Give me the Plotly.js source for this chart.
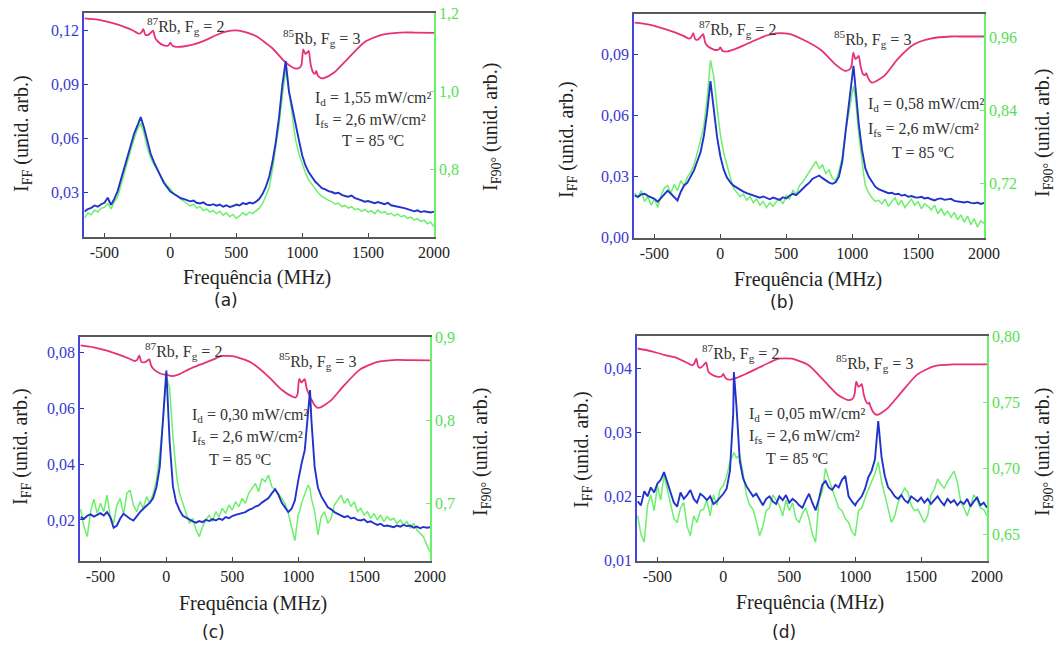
<!DOCTYPE html>
<html>
<head>
<meta charset="utf-8">
<script src="https://cdn.plot.ly/plotly-3.0.1.min.js"></script>
<style>
html,body{margin:0;padding:0;background:#fff;}
#chart{width:1059px;height:648px;}
</style>
</head>
<body>
<div id="chart"></div>
<script>
// ---------- shared frequency grid (MHz) ----------
const FREQ = [
-650,-625,-600,-575,-550,-525,-500,-475,-450,-425,
-400,-375,-350,-325,-300,-275,-250,-225,-200,-175,
-150,-125,-100,-75,-50,-25,0,25,50,75,
80,100,125,150,175,200,225,250,275,300,
325,350,375,400,425,450,475,500,525,550,
575,600,625,650,675,700,725,750,775,800,
825,850,875,900,925,950,975,1000,
1010,1025,1050,1075,1090,1100,1125,1150,1175,1200,
1225,1250,1275,1300,1325,1350,1375,1400,1425,1450,
1475,1500,1525,1550,1575,1600,1625,1650,1675,1700,
1725,1750,1775,1800,1825,1850,1875,1900,1925,1950,1975,2000];

const PINK_FREQ = [-650,-550,-450,-350,-280,-240,-222,-205,-190,-170,
-150,-130,-115,-95,-50,-15,0,15,45,100,
170,250,350,420,520,645,770,870,945,980,
995,1008,1025,1040,1050,1065,1082,1098,1107,1118,
1145,1170,1245,1345,1470,1595,1745,1850,2000];

// ---------- panel (a) ----------
const BLUE_A = [
0.0191,0.0205,0.0212,0.0225,0.0218,0.0232,0.0240,0.0268,0.0228,0.0262,
0.0305,0.0372,0.0435,0.0500,0.0565,0.0625,0.0670,0.0718,0.0660,0.0590,
0.0515,0.0468,0.0425,0.0390,0.0352,0.0330,0.0302,0.0290,0.0278,0.0270,
0.0265,0.0262,0.0255,0.0248,0.0252,0.0240,0.0236,0.0242,0.0230,0.0226,
0.0232,0.0224,0.0230,0.0218,0.0226,0.0216,0.0222,0.0230,0.0225,0.0238,
0.0232,0.0241,0.0236,0.0246,0.0262,0.0290,0.0330,0.0385,0.0470,0.0580,
0.0720,0.0900,0.1030,0.0860,0.0770,0.0670,0.0590,0.0505,
0.0480,0.0448,0.0410,0.0382,0.0366,0.0357,0.0340,0.0322,0.0315,0.0305,
0.0300,0.0292,0.0296,0.0284,0.0278,0.0274,0.0280,0.0266,0.0260,0.0252,
0.0246,0.0250,0.0242,0.0238,0.0244,0.0236,0.0232,0.0240,0.0226,0.0222,
0.0219,0.0214,0.0210,0.0205,0.0200,0.0192,0.0198,0.0188,0.0193,0.0190,0.0186,0.0191];
const GREEN_A = [
0.675,0.688,0.683,0.695,0.690,0.700,0.702,0.712,0.698,0.716,
0.728,0.760,0.790,0.820,0.850,0.878,0.902,0.918,0.892,0.855,
0.830,0.812,0.800,0.785,0.770,0.758,0.750,0.738,0.732,0.725,
0.722,0.718,0.712,0.706,0.710,0.700,0.704,0.694,0.698,0.690,
0.694,0.686,0.692,0.682,0.688,0.678,0.684,0.674,0.680,0.688,
0.682,0.690,0.686,0.694,0.700,0.712,0.730,0.752,0.800,0.860,
0.915,0.990,1.055,1.000,0.935,0.875,0.840,0.812,
0.802,0.790,0.772,0.760,0.752,0.748,0.738,0.730,0.724,0.720,
0.717,0.710,0.713,0.704,0.707,0.700,0.704,0.696,0.699,0.692,
0.697,0.690,0.693,0.686,0.695,0.688,0.691,0.684,0.687,0.680,
0.685,0.678,0.681,0.674,0.677,0.670,0.673,0.666,0.669,0.660,0.664,0.652];
const PINK_A = [0.1269,0.1262,0.1245,0.1222,0.1200,0.1184,0.1188,0.1209,0.1178,0.1176,
0.1188,0.1200,0.1160,0.1140,0.1118,0.1118,0.1134,0.1116,0.1110,0.1112,
0.1122,0.1142,0.1176,0.1195,0.1201,0.1172,0.1105,0.1026,0.0990,0.0994,
0.1010,0.1096,0.1070,0.1080,0.1088,0.1010,0.0968,0.0960,0.0976,0.0950,
0.0935,0.0937,0.0968,0.1043,0.1135,0.1176,0.1190,0.1190,0.1188];

// ---------- panel (b) ----------
const BLUE_B = [
0.0207,0.0200,0.0212,0.0215,0.0205,0.0198,0.0190,0.0176,0.0195,0.0210,
0.0231,0.0215,0.0200,0.0182,0.0225,0.0256,0.0270,0.0298,0.0330,0.0375,
0.0420,0.0500,0.0616,0.0770,0.0620,0.0495,0.0400,0.0335,0.0295,0.0270,
0.0268,0.0255,0.0245,0.0232,0.0226,0.0218,0.0212,0.0205,0.0200,0.0196,
0.0202,0.0194,0.0188,0.0196,0.0190,0.0185,0.0198,0.0192,0.0205,0.0215,
0.0208,0.0222,0.0240,0.0256,0.0270,0.0289,0.0296,0.0305,0.0292,0.0280,
0.0270,0.0264,0.0272,0.0300,0.0375,0.0520,0.0660,0.0790,
0.0846,0.0740,0.0560,0.0430,0.0370,0.0340,0.0300,0.0275,0.0250,0.0238,
0.0230,0.0225,0.0218,0.0220,0.0212,0.0215,0.0206,0.0210,0.0200,0.0204,
0.0198,0.0196,0.0200,0.0192,0.0195,0.0188,0.0182,0.0190,0.0192,0.0185,
0.0188,0.0190,0.0180,0.0178,0.0175,0.0172,0.0176,0.0170,0.0168,0.0172,0.0165,0.0170];
const GREEN_B = [
0.704,0.696,0.708,0.690,0.698,0.684,0.694,0.680,0.700,0.712,
0.716,0.704,0.718,0.708,0.724,0.716,0.730,0.738,0.750,0.768,
0.790,0.815,0.860,0.922,0.895,0.845,0.800,0.770,0.748,0.728,
0.726,0.712,0.705,0.698,0.702,0.692,0.698,0.688,0.694,0.684,
0.690,0.680,0.688,0.682,0.690,0.694,0.686,0.700,0.694,0.708,
0.702,0.716,0.722,0.730,0.738,0.746,0.756,0.744,0.750,0.736,
0.742,0.728,0.724,0.740,0.762,0.805,0.840,0.868,
0.880,0.860,0.800,0.750,0.730,0.716,0.704,0.696,0.690,0.692,
0.686,0.694,0.682,0.690,0.696,0.684,0.692,0.680,0.688,0.694,
0.684,0.690,0.678,0.686,0.682,0.676,0.684,0.670,0.678,0.668,
0.674,0.664,0.672,0.660,0.668,0.656,0.666,0.652,0.662,0.648,0.658,0.654];
const PINK_B = [0.1059,0.1050,0.1033,0.1012,0.0993,0.0980,0.0985,0.1007,0.0976,0.0975,
0.0988,0.1002,0.0960,0.0942,0.0926,0.0925,0.0936,0.0920,0.0916,0.0925,
0.0944,0.0968,0.0995,0.1006,0.1003,0.0969,0.0920,0.0854,0.0821,0.0828,
0.0845,0.0911,0.0879,0.0888,0.0895,0.0840,0.0805,0.0800,0.0810,0.0790,
0.0764,0.0766,0.0797,0.0879,0.0952,0.0980,0.0990,0.0990,0.0990];

// ---------- panel (c) ----------
const BLUE_C = [
0.0210,0.0204,0.0215,0.0220,0.0212,0.0218,0.0224,0.0216,0.0228,0.0210,
0.0172,0.0180,0.0205,0.0222,0.0212,0.0204,0.0198,0.0215,0.0228,0.0240,
0.0252,0.0262,0.0278,0.0318,0.0390,0.0550,0.0735,0.0480,0.0320,0.0262,
0.0258,0.0235,0.0215,0.0208,0.0200,0.0195,0.0190,0.0196,0.0192,0.0200,
0.0196,0.0203,0.0198,0.0205,0.0200,0.0210,0.0206,0.0214,0.0218,0.0222,
0.0226,0.0228,0.0236,0.0240,0.0248,0.0252,0.0262,0.0270,0.0278,0.0295,
0.0310,0.0290,0.0262,0.0245,0.0228,0.0240,0.0270,0.0340,
0.0365,0.0400,0.0450,0.0570,0.0665,0.0560,0.0390,0.0315,0.0285,0.0265,
0.0245,0.0238,0.0228,0.0222,0.0215,0.0210,0.0214,0.0205,0.0208,0.0200,
0.0198,0.0202,0.0192,0.0195,0.0188,0.0182,0.0186,0.0178,0.0180,0.0176,
0.0174,0.0180,0.0176,0.0182,0.0178,0.0180,0.0172,0.0176,0.0170,0.0175,0.0172,0.0174];
const GREEN_C = [
0.693,0.672,0.660,0.690,0.705,0.688,0.700,0.690,0.710,0.684,
0.676,0.698,0.706,0.686,0.712,0.716,0.698,0.690,0.702,0.694,
0.708,0.700,0.712,0.728,0.760,0.800,0.853,0.838,0.780,0.735,
0.730,0.712,0.700,0.688,0.676,0.682,0.668,0.660,0.672,0.680,
0.686,0.678,0.690,0.684,0.694,0.688,0.698,0.692,0.702,0.696,
0.706,0.700,0.712,0.718,0.724,0.714,0.730,0.726,0.734,0.720,
0.716,0.712,0.706,0.700,0.688,0.670,0.655,0.686,
0.690,0.700,0.712,0.722,0.718,0.706,0.690,0.662,0.684,0.690,
0.676,0.682,0.698,0.704,0.710,0.700,0.706,0.696,0.702,0.690,
0.694,0.686,0.690,0.682,0.688,0.680,0.686,0.678,0.684,0.680,
0.682,0.676,0.680,0.674,0.678,0.670,0.676,0.668,0.664,0.660,0.650,0.642];
const PINK_C = [0.0825,0.0818,0.0806,0.0790,0.0777,0.0769,0.0773,0.0789,0.0766,0.0764,
0.0768,0.0775,0.0752,0.0739,0.0725,0.0720,0.0722,0.0718,0.0715,0.0722,
0.0739,0.0755,0.0773,0.0787,0.0785,0.0763,0.0715,0.0668,0.0644,0.0638,
0.0650,0.0705,0.0692,0.0700,0.0704,0.0670,0.0650,0.0632,0.0626,0.0615,
0.0602,0.0603,0.0626,0.0680,0.0739,0.0765,0.0773,0.0772,0.0771];

// ---------- panel (d) ----------
const BLUE_D = [
0.0192,0.0186,0.0208,0.0200,0.0214,0.0206,0.0220,0.0226,0.0238,0.0222,
0.0203,0.0190,0.0184,0.0206,0.0196,0.0202,0.0210,0.0196,0.0190,0.0204,
0.0200,0.0194,0.0200,0.0188,0.0192,0.0198,0.0204,0.0212,0.0240,0.0330,
0.0395,0.0340,0.0255,0.0228,0.0216,0.0208,0.0200,0.0204,0.0194,0.0186,
0.0196,0.0200,0.0192,0.0188,0.0200,0.0194,0.0202,0.0190,0.0196,0.0192,
0.0186,0.0182,0.0194,0.0204,0.0190,0.0178,0.0196,0.0218,0.0224,0.0214,
0.0210,0.0218,0.0214,0.0226,0.0232,0.0200,0.0192,0.0186,
0.0190,0.0194,0.0200,0.0212,0.0226,0.0230,0.0240,0.0258,0.0318,0.0262,
0.0232,0.0214,0.0208,0.0200,0.0196,0.0202,0.0194,0.0190,0.0200,0.0196,
0.0192,0.0198,0.0190,0.0196,0.0188,0.0194,0.0200,0.0192,0.0186,0.0196,
0.0190,0.0194,0.0186,0.0192,0.0188,0.0196,0.0184,0.0192,0.0198,0.0186,0.0190,0.0182];
const GREEN_D = [
0.664,0.650,0.644,0.672,0.680,0.668,0.687,0.676,0.695,0.684,
0.674,0.662,0.659,0.670,0.674,0.656,0.649,0.664,0.659,0.668,
0.669,0.676,0.664,0.680,0.672,0.684,0.687,0.694,0.705,0.712,
0.712,0.708,0.710,0.696,0.680,0.672,0.669,0.660,0.649,0.656,
0.668,0.670,0.680,0.676,0.672,0.664,0.676,0.668,0.674,0.662,
0.659,0.666,0.670,0.662,0.650,0.644,0.676,0.682,0.700,0.692,
0.685,0.678,0.670,0.668,0.662,0.659,0.652,0.649,
0.656,0.668,0.670,0.678,0.682,0.684,0.690,0.696,0.705,0.690,
0.680,0.670,0.659,0.664,0.674,0.680,0.685,0.682,0.672,0.668,
0.669,0.664,0.659,0.664,0.680,0.684,0.692,0.688,0.685,0.690,
0.694,0.698,0.690,0.675,0.670,0.664,0.672,0.680,0.676,0.670,0.669,0.664];
const PINK_D = [0.0432,0.0428,0.0422,0.0417,0.0410,0.0406,0.0408,0.0416,0.0403,0.0402,
0.0406,0.0410,0.0396,0.0392,0.0388,0.0388,0.0392,0.0386,0.0383,0.0386,
0.0392,0.0400,0.0410,0.0416,0.0416,0.0406,0.0380,0.0359,0.0351,0.0353,
0.0360,0.0380,0.0372,0.0374,0.0376,0.0360,0.0349,0.0345,0.0347,0.0340,
0.0330,0.0328,0.0338,0.0362,0.0391,0.0404,0.0407,0.0407,0.0407];

// ---------- tick labels ----------
const X_TICKS = [-500, 0, 500, 1000, 1500, 2000];
const X_TICK_TEXT = ['-500', '0', '500', '1000', '1500', '2000'];
const LEFT_TICKS_A = [0.03, 0.06, 0.09, 0.12];   const LEFT_TEXT_A = ['0,03','0,06','0,09','0,12'];
const RIGHT_TICKS_A = [0.8, 1.0, 1.2];           const RIGHT_TEXT_A = ['0,8','1,0','1,2'];
const LEFT_TICKS_B = [0, 0.03, 0.06, 0.09];      const LEFT_TEXT_B = ['0,00','0,03','0,06','0,09'];
const RIGHT_TICKS_B = [0.72, 0.84, 0.96];        const RIGHT_TEXT_B = ['0,72','0,84','0,96'];
const LEFT_TICKS_C = [0.02, 0.04, 0.06, 0.08];   const LEFT_TEXT_C = ['0,02','0,04','0,06','0,08'];
const RIGHT_TICKS_C = [0.7, 0.8, 0.9];           const RIGHT_TEXT_C = ['0,7','0,8','0,9'];
const LEFT_TICKS_D = [0.01, 0.02, 0.03, 0.04];   const LEFT_TEXT_D = ['0,01','0,02','0,03','0,04'];
const RIGHT_TICKS_D = [0.65, 0.70, 0.75, 0.80];  const RIGHT_TEXT_D = ['0,65','0,70','0,75','0,80'];

const PANEL_LABELS = ['(a)', '(b)', '(c)', '(d)'];
const ID_TEXT = ['1,55', '0,58', '0,30', '0,05'];

// ---------- layout geometry (pixels) ----------
const W = 1059, H = 648;
const BLUE = '#2233cc', GREEN = '#6cf06c', PINK = '#e6317a';
const BLUE_TXT = '#3a3ad0', GREEN_TXT = '#55e055';
const SERIF = 'Liberation Serif';

const panels = [
  {blue: BLUE_A, green: GREEN_A, pink: PINK_A, px: [84, 434], py: [13, 237],
   lrange: [0.0049, 0.1299], rrange: [0.626, 1.2008], lt: LEFT_TICKS_A, ltt: LEFT_TEXT_A, rt: RIGHT_TICKS_A, rtt: RIGHT_TEXT_A,
   rb87: [-195, 0.1228], rb85: [840, 0.1157], info: [[1085, 0.0820], [1085, 0.0700], [1290, 0.0589]],
   ltitle: [22, 134], rtitle: [492, 127], xtitle: [257, 277], lab: [226, 300]},
  {blue: BLUE_B, green: GREEN_B, pink: PINK_B, px: [634, 984], py: [14, 238],
   lrange: [-0.0003, 0.1101], rrange: [0.630, 0.998], lt: LEFT_TICKS_B, ltt: LEFT_TEXT_B, rt: RIGHT_TICKS_B, rtt: RIGHT_TEXT_B,
   rb87: [-180, 0.1026], rb85: [845, 0.0977], info: [[1105, 0.0657], [1105, 0.0534], [1285, 0.0420]],
   ltitle: [568, 140], rtitle: [1043, 133], xtitle: [808, 279], lab: [782, 302]},
  {blue: BLUE_C, green: GREEN_C, pink: PINK_C, px: [80, 430], py: [336.7, 560.7],
   lrange: [0.0054, 0.0856], rrange: [0.631, 0.9005], lt: LEFT_TICKS_C, ltt: LEFT_TEXT_C, rt: RIGHT_TICKS_C, rtt: RIGHT_TEXT_C,
   rb87: [-180, 0.0805], rb85: [840, 0.0769], info: [[182, 0.0573], [182, 0.0495], [307, 0.0418]],
   ltitle: [22, 447], rtitle: [481, 452], xtitle: [253, 603], lab: [213, 632]},
  {blue: BLUE_D, green: GREEN_D, pink: PINK_D, px: [637, 987], py: [336, 560.7],
   lrange: [0.0099, 0.04516], rrange: [0.630, 0.8005], lt: LEFT_TICKS_D, ltt: LEFT_TEXT_D, rt: RIGHT_TICKS_D, rtt: RIGHT_TEXT_D,
   rb87: [-180, 0.0425], rb85: [840, 0.0409], info: [[182, 0.0328], [182, 0.0294], [307, 0.0260]],
   ltitle: [582, 450], rtitle: [1043, 452], xtitle: [810, 602], lab: [784, 632]}
];

const data = [];
const layout = {
  width: W, height: H, margin: {l: 0, r: 0, t: 0, b: 0},
  paper_bgcolor: '#ffffff', plot_bgcolor: 'rgba(0,0,0,0)',
  showlegend: false, annotations: [], font: {family: SERIF, size: 16, color: '#222'}
};

panels.forEach((p, i) => {
  const xn = i + 1;
  const yR = 2 * i + 1, yL = 2 * i + 2;
  const xKey = xn === 1 ? 'xaxis' : 'xaxis' + xn;
  const yRKey = yR === 1 ? 'yaxis' : 'yaxis' + yR;
  const yLKey = 'yaxis' + yL;
  const xRef = xn === 1 ? 'x' : 'x' + xn;
  const yRRef = yR === 1 ? 'y' : 'y' + yR;
  const yLRef = 'y' + yL;

  layout[xKey] = {
    domain: [p.px[0] / W, p.px[1] / W], anchor: yRRef, range: [-655, 2000],
    tickmode: 'array', tickvals: X_TICKS, ticktext: X_TICK_TEXT,
    ticks: 'inside', ticklen: 4, tickwidth: 1, tickcolor: '#444',
    showline: true, linecolor: '#5a5a5a', linewidth: 1.5, mirror: true,
    showgrid: false, zeroline: false,
    tickfont: {family: SERIF, size: 16, color: '#222'}
  };
  layout[yRKey] = {
    domain: [1 - p.py[1] / H, 1 - p.py[0] / H], anchor: xRef, side: 'right', range: p.rrange,
    tickmode: 'array', tickvals: p.rt, ticktext: p.rtt,
    ticks: 'inside', ticklen: 4, tickcolor: GREEN,
    showline: true, linecolor: GREEN, linewidth: 1.5,
    showgrid: false, zeroline: false,
    tickfont: {family: SERIF, size: 16, color: GREEN_TXT}
  };
  layout[yLKey] = {
    overlaying: yRRef, anchor: xRef, side: 'left', range: p.lrange,
    tickmode: 'array', tickvals: p.lt, ticktext: p.ltt,
    ticks: 'inside', ticklen: 4, tickcolor: BLUE,
    showline: true, linecolor: '#4444e0', linewidth: 1.5,
    showgrid: false, zeroline: false,
    tickfont: {family: SERIF, size: 16, color: BLUE_TXT}
  };

  data.push({x: FREQ, y: p.green, xaxis: xRef, yaxis: yRRef, type: 'scatter', mode: 'lines',
             line: {color: GREEN, width: 1.5}, hoverinfo: 'skip'});
  data.push({x: PINK_FREQ, y: p.pink, xaxis: xRef, yaxis: yLRef, type: 'scatter', mode: 'lines',
             line: {color: PINK, width: 1.8, shape: 'spline', smoothing: 0.6}, hoverinfo: 'skip'});
  data.push({x: FREQ, y: p.blue, xaxis: xRef, yaxis: yLRef, type: 'scatter', mode: 'lines',
             line: {color: BLUE, width: 1.9}, hoverinfo: 'skip'});

  const txtFont = {family: SERIF, size: 16, color: '#333'};
  const A = layout.annotations;
  A.push({xref: xRef, yref: yLRef, x: p.rb87[0], y: p.rb87[1], xanchor: 'left', yanchor: 'middle',
          text: '<sup>87</sup>Rb, F<sub>g</sub> = 2', showarrow: false, font: txtFont});
  A.push({xref: xRef, yref: yLRef, x: p.rb85[0], y: p.rb85[1], xanchor: 'left', yanchor: 'middle',
          text: '<sup>85</sup>Rb, F<sub>g</sub> = 3', showarrow: false, font: txtFont});
  A.push({xref: xRef, yref: yLRef, x: p.info[0][0], y: p.info[0][1], xanchor: 'left', yanchor: 'middle',
          text: 'I<sub>d</sub> = ' + ID_TEXT[i] + ' mW/cm²', showarrow: false, font: txtFont});
  A.push({xref: xRef, yref: yLRef, x: p.info[1][0], y: p.info[1][1], xanchor: 'left', yanchor: 'middle',
          text: 'I<sub>fs</sub> = 2,6 mW/cm²', showarrow: false, font: txtFont});
  A.push({xref: xRef, yref: yLRef, x: p.info[2][0], y: p.info[2][1], xanchor: 'left', yanchor: 'middle',
          text: 'T = 85 ºC', showarrow: false, font: txtFont});

  const titleFont = {family: SERIF, size: 20, color: '#222'};
  A.push({xref: 'paper', yref: 'paper', x: p.ltitle[0] / W, y: 1 - p.ltitle[1] / H, xanchor: 'center', yanchor: 'middle',
          text: 'I<sub>FF</sub> (unid. arb.)', textangle: -90, showarrow: false, font: titleFont});
  A.push({xref: 'paper', yref: 'paper', x: p.rtitle[0] / W, y: 1 - p.rtitle[1] / H, xanchor: 'center', yanchor: 'middle',
          text: 'I<sub>F90°</sub> (unid. arb.)', textangle: -90, showarrow: false, font: titleFont});
  A.push({xref: 'paper', yref: 'paper', x: p.xtitle[0] / W, y: 1 - p.xtitle[1] / H, xanchor: 'center', yanchor: 'middle',
          text: 'Frequência (MHz)', showarrow: false, font: titleFont});
  A.push({xref: 'paper', yref: 'paper', x: p.lab[0] / W, y: 1 - p.lab[1] / H, xanchor: 'center', yanchor: 'middle',
          text: PANEL_LABELS[i], showarrow: false, font: {family: 'DejaVu Sans', size: 17, color: '#222'}});
});

Plotly.newPlot('chart', data, layout, {displayModeBar: false});
</script>
</body>
</html>
